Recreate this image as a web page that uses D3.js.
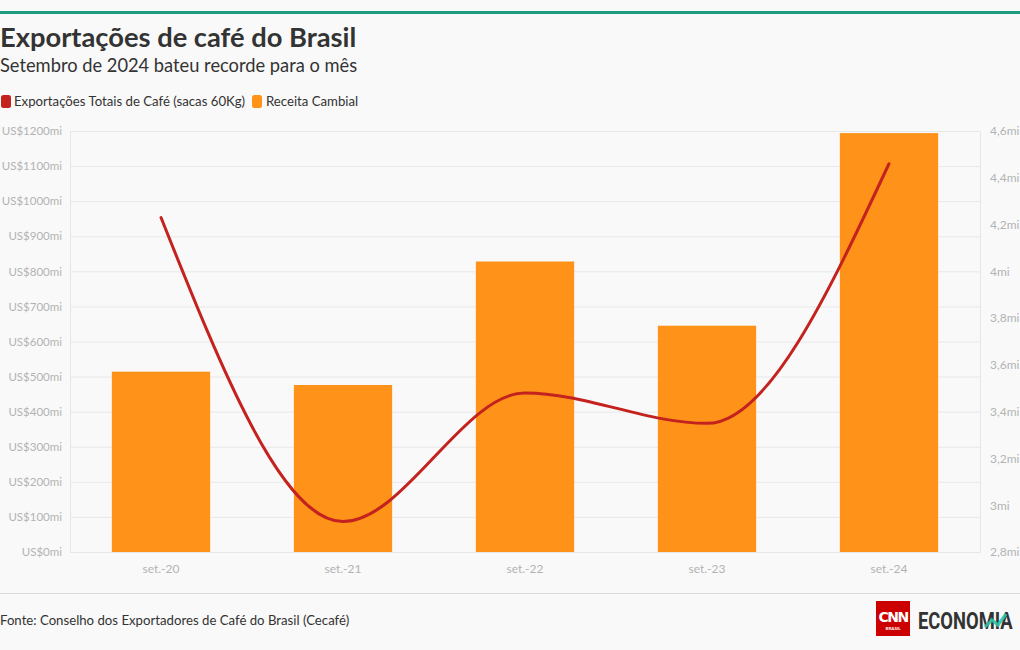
<!DOCTYPE html>
<html><head><meta charset="utf-8">
<script src="https://cdn.jsdelivr.net/npm/d3@7"></script>
<style>
body{margin:0;background:#f9f9f9;}
svg{display:block;font-family:"Source Sans Pro","Lato","Noto Sans",sans-serif;}
</style></head><body>
<script>
const categories = ["set.-20","set.-21","set.-22","set.-23","set.-24"];
const receita = [514, 476, 828, 645, 1194];          // US$ mi
const exportacoes = [4.23, 2.93, 3.48, 3.35, 4.46];  // mi sacas
const leftTicks = [0,100,200,300,400,500,600,700,800,900,1000,1100,1200];
const rightTicks = [2.8,3.0,3.2,3.4,3.6,3.8,4.0,4.2,4.4,4.6];

const W=1020,H=650;
const svg=d3.select("body").append("svg").attr("width",W).attr("height",H);
svg.append("rect").attr("width",W).attr("height",H).attr("fill","#f9f9f9");
svg.append("rect").attr("x",0).attr("y",11).attr("width",W).attr("height",3).attr("fill","#1f9c80");

svg.append("text").attr("x",0).attr("y",47).attr("font-size",27.3).attr("font-weight",700).attr("fill","#333")
  .text("Exportações de café do Brasil");
svg.append("text").attr("x",0).attr("y",72).attr("font-size",18.3).attr("fill","#333")
  .text("Setembro de 2024 bateu recorde para o mês");

const lineColor="#c4221f", barColor="#ff9219";
const lg=svg.append("g");
lg.append("rect").attr("x",1).attr("y",95).attr("width",10).attr("height",13).attr("rx",2.5).attr("fill",lineColor);
lg.append("text").attr("x",14).attr("y",106).attr("font-size",13.2).attr("fill","#333").text("Exportações Totais de Café (sacas 60Kg)");
lg.append("rect").attr("x",252).attr("y",95).attr("width",10).attr("height",13).attr("rx",2.5).attr("fill",barColor);
lg.append("text").attr("x",266).attr("y",106).attr("font-size",13.2).attr("fill","#333").text("Receita Cambial");

const x0=70,x1=980,yTop=131,yBot=552;
const x=d3.scaleBand().domain(categories).range([x0,x1]).paddingInner(0.46).paddingOuter(0.23);
const y=d3.scaleLinear().domain([0,1200]).range([yBot,yTop]);
const y2=d3.scaleLinear().domain([2.8,4.6]).range([yBot,yTop]);

// grid
svg.append("g").selectAll("line").data(leftTicks).join("line")
  .attr("x1",x0).attr("x2",x1).attr("y1",d=>y(d)+0.5).attr("y2",d=>y(d)+0.5)
  .attr("stroke","#e8e8e8");

function styleAxis(g,fs){
  g.attr("font-family",null).attr("font-size",null);
  g.select(".domain").attr("stroke","#e6e6e6");
  g.selectAll("text").attr("font-size",fs).attr("fill","#b3b3b3");
}
// left axis
const ga=svg.append("g").attr("transform",`translate(${x0},0)`)
  .call(d3.axisLeft(y).tickValues(leftTicks).tickSize(0).tickPadding(8).tickFormat(d=>`US$${d}mi`));
styleAxis(ga,11.5);

// right axis
const gr=svg.append("g").attr("transform",`translate(${x1},0)`)
  .call(d3.axisRight(y2).tickValues(rightTicks).tickSize(0).tickPadding(10)
    .tickFormat(d=>(Math.round(d*10)/10).toString().replace(".",",")+"mi"));
styleAxis(gr,12);

// bottom axis
const gb=svg.append("g").attr("transform",`translate(0,${yBot})`)
  .call(d3.axisBottom(x).tickSize(0).tickPadding(12));
styleAxis(gb,12);

// bars
svg.append("g").selectAll("rect").data(receita).join("rect")
  .attr("x",(d,i)=>x(categories[i])).attr("width",x.bandwidth())
  .attr("y",d=>y(d)).attr("height",d=>yBot-y(d)).attr("fill",barColor);

// line
const line=d3.line().x((d,i)=>x(categories[i])+x.bandwidth()/2).y(d=>y2(d)).curve(d3.curveMonotoneX);
svg.append("path").datum(exportacoes).attr("d",line).attr("fill","none")
  .attr("stroke",lineColor).attr("stroke-width",3).attr("stroke-linecap","round");

// footer
svg.append("line").attr("x1",0).attr("x2",W).attr("y1",593.5).attr("y2",593.5).attr("stroke","#dcdcdc");
svg.append("text").attr("x",0).attr("y",625).attr("font-size",13.2).attr("fill","#333")
  .text("Fonte: Conselho dos Exportadores de Café do Brasil (Cecafé)");

// logo
const logo=svg.append("g");
logo.append("rect").attr("x",876).attr("y",601).attr("width",34).attr("height",35).attr("fill","#cc0000");
logo.append("text").attr("x",893).attr("y",622).attr("text-anchor","middle").attr("font-size",14).attr("font-weight",700)
  .attr("fill","#fff").attr("font-family","DejaVu Sans").attr("letter-spacing",-1.5).text("CNN");
logo.append("text").attr("x",893).attr("y",630).attr("text-anchor","middle").attr("font-size",4.5).attr("font-weight",700)
  .attr("fill","#fff").text("BRASIL");
logo.append("text").attr("transform","translate(918,629) scale(0.8,1)").attr("font-size",23).attr("font-weight",700)
  .attr("fill","#333").attr("font-family","Roboto").text("ECONOMIA");
logo.append("path").attr("d","M985,627 L992,620 L998,625 L1006,614").attr("fill","none").attr("stroke","#2cc3a8").attr("stroke-width",3).attr("opacity",0.9);
</script>
</body></html>
